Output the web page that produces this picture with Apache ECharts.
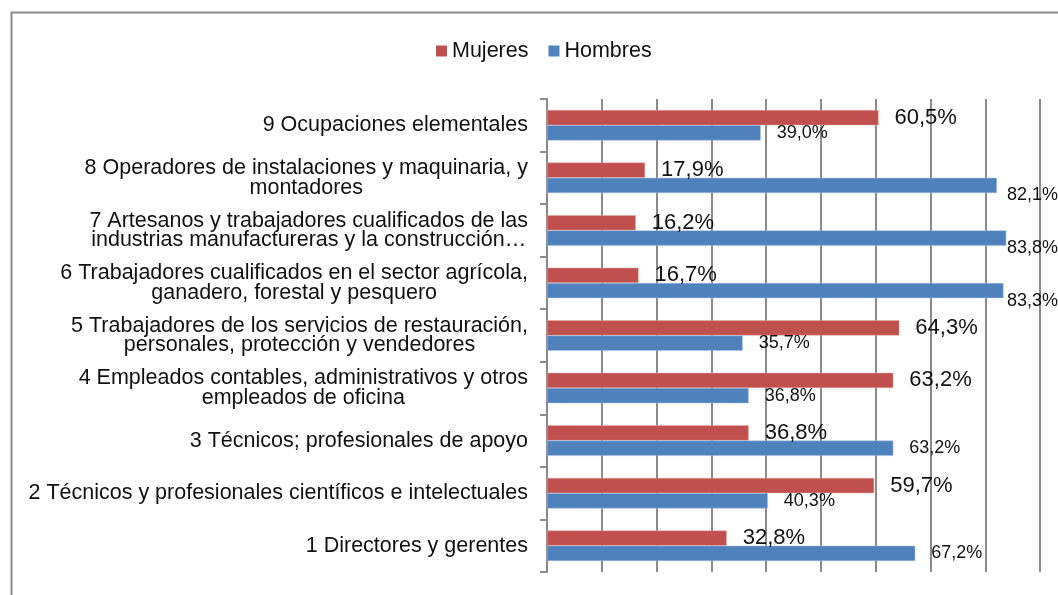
<!DOCTYPE html>
<html>
<head>
<meta charset="utf-8">
<script src="https://cdn.jsdelivr.net/npm/echarts@6/dist/echarts.min.js"></script>
<style>
html,body{margin:0;padding:0;background:#fff;}
#chart{width:1058px;height:595px;}
</style>
</head>
<body>
<div id="chart"></div>
<script>
const categories = [
  "1 Directores y gerentes",
  "2 Técnicos y profesionales científicos e intelectuales",
  "3 Técnicos; profesionales de apoyo",
  "4 Empleados contables, administrativos y otros\nempleados de oficina",
  "5 Trabajadores de los servicios de restauración,\npersonales, protección y vendedores",
  "6 Trabajadores cualificados en el sector agrícola,\nganadero, forestal y pesquero",
  "7 Artesanos y trabajadores cualificados de las\nindustrias manufactureras y la construcción…",
  "8 Operadores de instalaciones y maquinaria, y\nmontadores",
  "9 Ocupaciones elementales"
];
const mujeres = [32.8, 59.7, 36.8, 63.2, 64.3, 16.7, 16.2, 17.9, 60.5];
const hombres = [67.2, 40.3, 63.2, 36.8, 35.7, 83.3, 83.8, 82.1, 39.0];
const seriesNames = ["Mujeres", "Hombres"];

const FONT = "'Liberation Sans', Arial, Helvetica, sans-serif";
const W = 1058;
const chart = echarts.init(document.getElementById('chart'), null, {renderer: 'canvas'});

function fmt(p) { return p.value.toFixed(1).replace('.', ',') + '%'; }
function keepInside(params) {
  const r = params.labelRect;
  if (r.x + r.width > W) return { x: W - r.width };
  return {};
}

chart.setOption({
  animation: false,
  backgroundColor: '#ffffff',
  graphic: [{
    type: 'rect',
    shape: { x: 11.5, y: 12.5, width: 1200, height: 700 },
    style: { fill: 'none', stroke: '#898989', lineWidth: 2 },
    silent: true, z: -1
  }],
  legend: {
    data: seriesNames,
    top: 35,
    left: 431,
    itemWidth: 11,
    itemHeight: 11,
    itemGap: 20,
    icon: 'rect',
    itemStyle: { borderWidth: 0 },
    textStyle: { fontFamily: FONT, fontSize: 21.5, color: '#111' }
  },
  grid: { left: 547, width: 548, top: 99, height: 473, containLabel: false,
    outerBoundsMode: 'none' },
  xAxis: {
    type: 'value', min: 0, max: 100, interval: 10,
    axisLabel: { show: false },
    axisLine: { show: false },
    axisTick: { show: false },
    splitLine: { show: true, lineStyle: { color: '#8a8a8a', width: 2 } }
  },
  yAxis: {
    type: 'category',
    data: categories,
    axisLine: { show: true, lineStyle: { color: '#8a8a8a', width: 2 } },
    axisTick: { show: true, length: 7, lineStyle: { color: '#8a8a8a', width: 2 } },
    axisLabel: {
      margin: 19,
      formatter: function (v) {
        return v.split('\n').map(function (s) { return '{c|' + s + '}'; }).join('\n');
      },
      rich: { c: { fontFamily: FONT, fontSize: 21.5, lineHeight: 19.5, color: '#111', align: 'center' } }
    }
  },
  series: [
    {
      name: seriesNames[0], type: 'bar', data: mujeres,
      barCategoryGap: '42%', barGap: '0%',
      itemStyle: { color: '#C0504D', borderColor: '#e9a8a6', borderWidth: 0.5 },
      label: { show: true, position: 'right', distance: 16, formatter: fmt,
        fontFamily: FONT, fontSize: 22, color: '#111' },
      labelLayout: keepInside
    },
    {
      name: seriesNames[1], type: 'bar', data: hombres,
      barCategoryGap: '42%', barGap: '0%',
      itemStyle: { color: '#4F81BD', borderColor: '#a9c3e3', borderWidth: 0.5 },
      label: { show: true, position: 'right', distance: 16, offset: [0, 1], formatter: fmt,
        fontFamily: FONT, fontSize: 18, color: '#111' },
      labelLayout: keepInside
    }
  ]
});
</script>
</body>
</html>
